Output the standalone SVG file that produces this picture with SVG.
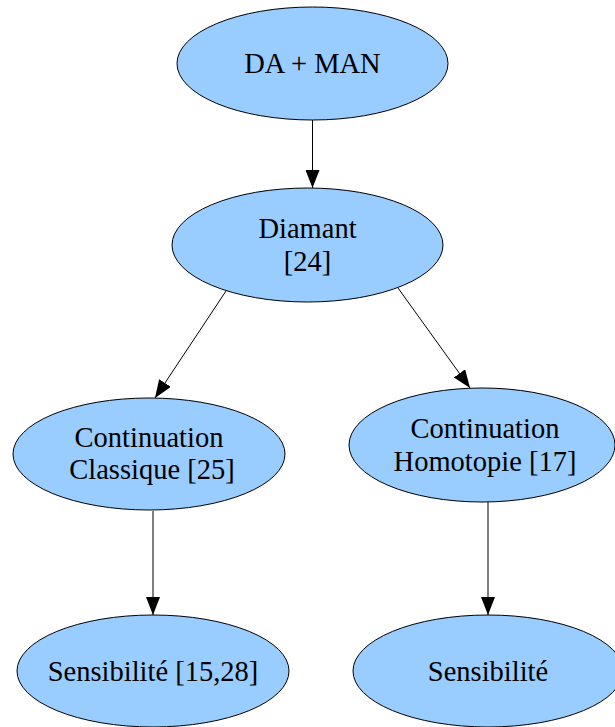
<svg xmlns="http://www.w3.org/2000/svg" width="615" height="727" viewBox="0 0 615 727">
<style>
.n ellipse{fill:#99ccff;stroke:#000;stroke-width:1}
.n text{font-family:"Liberation Serif","Times New Roman",serif;font-size:28.5px;fill:#000;text-anchor:middle}
.e line{stroke:#000;stroke-width:1}
</style>
<defs>
<marker id="ah" viewBox="0 0 18 14" refX="18" refY="7" markerWidth="18" markerHeight="14" markerUnits="userSpaceOnUse" orient="auto">
<path d="M0,0 L18,7 L0,14 Z" fill="#000"/>
</marker>
</defs>
<rect width="615" height="727" fill="#fff"/>
<g id="edges" class="e">
<line x1="312.5" y1="120" x2="312.5" y2="188" marker-end="url(#ah)"/>
<line x1="226" y1="291" x2="155" y2="398" marker-end="url(#ah)"/>
<line x1="398" y1="288" x2="470" y2="388" marker-end="url(#ah)"/>
<line x1="153" y1="511" x2="153" y2="615" marker-end="url(#ah)"/>
<line x1="488" y1="502" x2="488" y2="615" marker-end="url(#ah)"/>
</g>
<g id="n1" class="n"><ellipse cx="312.5" cy="63.5" rx="135.5" ry="56.5"/><text x="312.5" y="73">DA + MAN</text></g>
<g id="n2" class="n"><ellipse cx="307.5" cy="245" rx="135.5" ry="57"/><text x="307.5" y="238">Diamant</text><text x="307.5" y="271">[24]</text></g>
<g id="n3" class="n"><ellipse cx="149" cy="454" rx="136" ry="56"/><text x="149" y="447">Continuation</text><text x="152" y="479">Classique [25]</text></g>
<g id="n4" class="n"><ellipse cx="482" cy="445" rx="133" ry="57"/><text x="485" y="438">Continuation</text><text x="485" y="471">Homotopie [17]</text></g>
<g id="n5" class="n"><ellipse cx="153" cy="671" rx="136" ry="56"/><text x="153" y="681">Sensibilité [15,28]</text></g>
<g id="n6" class="n"><ellipse cx="488" cy="671" rx="135" ry="56"/><text x="488" y="681">Sensibilité</text></g>
</svg>
